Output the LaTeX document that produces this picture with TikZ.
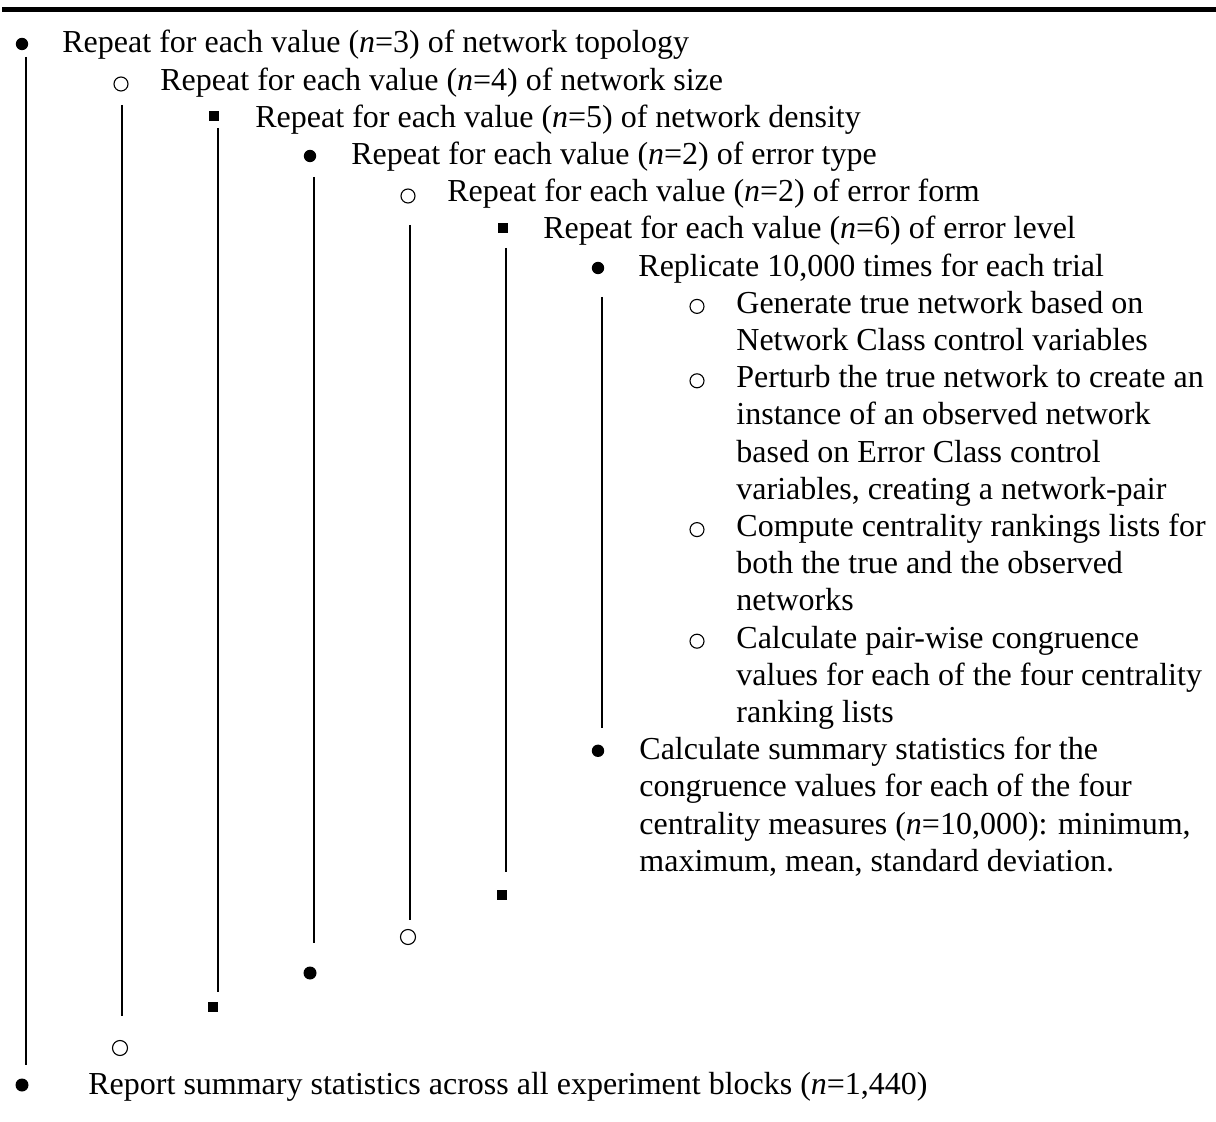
\documentclass[tikz,border=0pt]{standalone}
\usepackage{fontspec}
\setmainfont{Liberation Serif}
\usepackage{tikz}
\tikzset{
  bdot/.style={
    circle,
    fill=black,
    inner sep=0pt,
    minimum size={#1pt},
  },
  bring/.style={
    circle,
    draw=black,
    line width=0.55pt,
    inner sep=0pt,
    minimum size={#1pt},
  },
  bsq/.style={
    rectangle,
    fill=black,
    inner sep=0pt,
    minimum size=5pt,
  },
  txt/.style={
    anchor=base west,
    inner sep=0pt,
    font=\fontsize{16}{18.6}\selectfont,
  },
  vline/.style={
    line width=1pt,
  }
}

\begin{document}
\begin{tikzpicture}[x=0.5pt, y=-0.5pt]
        \useasboundingbox (0,0) rectangle (1216,1122);
        \fill (2,7) rectangle (1216,12);

        \node [bdot=6.2] (o1) at (22,44) {};
        \node [txt] (t1) at (62,53) {Repeat for each value (\textit{n}=3) of network topology};
        \node [bring=7] (o2) at (121,84) {};
        \node [txt] (t2) at (160,90.2) {Repeat for each value (\textit{n}=4) of network size};
        \node [bsq] (o3) at (214,116) {};
        \node [txt] (t3) at (255,127.4) {Repeat for each value (\textit{n}=5) of network density};
        \node [bdot=6.2] (o4) at (310,156) {};
        \node [txt] (t4) at (351,164.6) {Repeat for each value (\textit{n}=2) of error type};
        \node [bring=7] (o5) at (408,196) {};
        \node [txt] (t5) at (447,201.8) {Repeat for each value (\textit{n}=2) of error form};
        \node [bsq] (o6) at (503,228) {};
        \node [txt] (t6) at (543,239) {Repeat for each value (\textit{n}=6) of error level};
        \node [bdot=6.2] (o7) at (598,268) {};
        \node [txt] (t7) at (638,276.2) {Replicate 10,000 times for each trial};

        \node [bring=7] (g1) at (697,306.4) {};
        \node [txt] (t8) at (736,313.4) {Generate true network based on};
        \node [txt] (t9) at (736,350.6) {Network Class control variables};
        \node [bring=7] (g2) at (697,380.8) {};
        \node [txt] (t10) at (736,387.8) {Perturb the true network to create an};
        \node [txt] (t11) at (736,425) {instance of an observed network};
        \node [txt] (t12) at (736,462.2) {based on Error Class control};
        \node [txt] (t13) at (736,499.4) {variables, creating a network-pair};
        \node [bring=7] (g3) at (697,529.6) {};
        \node [txt] (t14) at (736,536.6) {Compute centrality rankings lists for};
        \node [txt] (t15) at (736,573.8) {both the true and the observed};
        \node [txt] (t16) at (736,611) {networks};
        \node [bring=7] (g4) at (697,641.2) {};
        \node [txt] (t17) at (736,648.2) {Calculate pair-wise congruence};
        \node [txt] (t18) at (736,685.4) {values for each of the four centrality};
        \node [txt] (t19) at (736,722.6) {ranking lists};

        \node [bdot=6.2] (s1) at (598,750.8) {};
        \node [txt] (t20) at (639,759.8) {Calculate summary statistics for the};
        \node [txt] (t21) at (639,797) {congruence values for each of the four};
        \node [txt] (t22) at (639,834.2) {centrality measures (\textit{n}=10,000): minimum,};
        \node [txt] (t23) at (639,871.4) {maximum, mean, standard deviation.};

        \node [bsq] (c6) at (502,895) {};
        \node [bring=7.5] (c5) at (408,937) {};
        \node [bdot=6.5] (c4) at (310,973) {};
        \node [bsq] (c3) at (213,1007) {};
        \node [bring=7.5] (c2) at (120,1048) {};
        \node [bdot=6.5] (c1) at (22,1085) {};
        \node [txt] (t29) at (88,1094.6) {Report summary statistics across all experiment blocks (\textit{n}=1,440)};

        \draw [vline] (26,57) -- (26,1065);
        \draw [vline] (122,105) -- (122,1016);
        \draw [vline] (218,128) -- (218,992);
        \draw [vline] (314,177) -- (314,943);
        \draw [vline] (410,225) -- (410,920);
        \draw [vline] (506,248) -- (506,872);
        \draw [vline] (602,297) -- (602,728);
      \end{tikzpicture}
\end{document}
